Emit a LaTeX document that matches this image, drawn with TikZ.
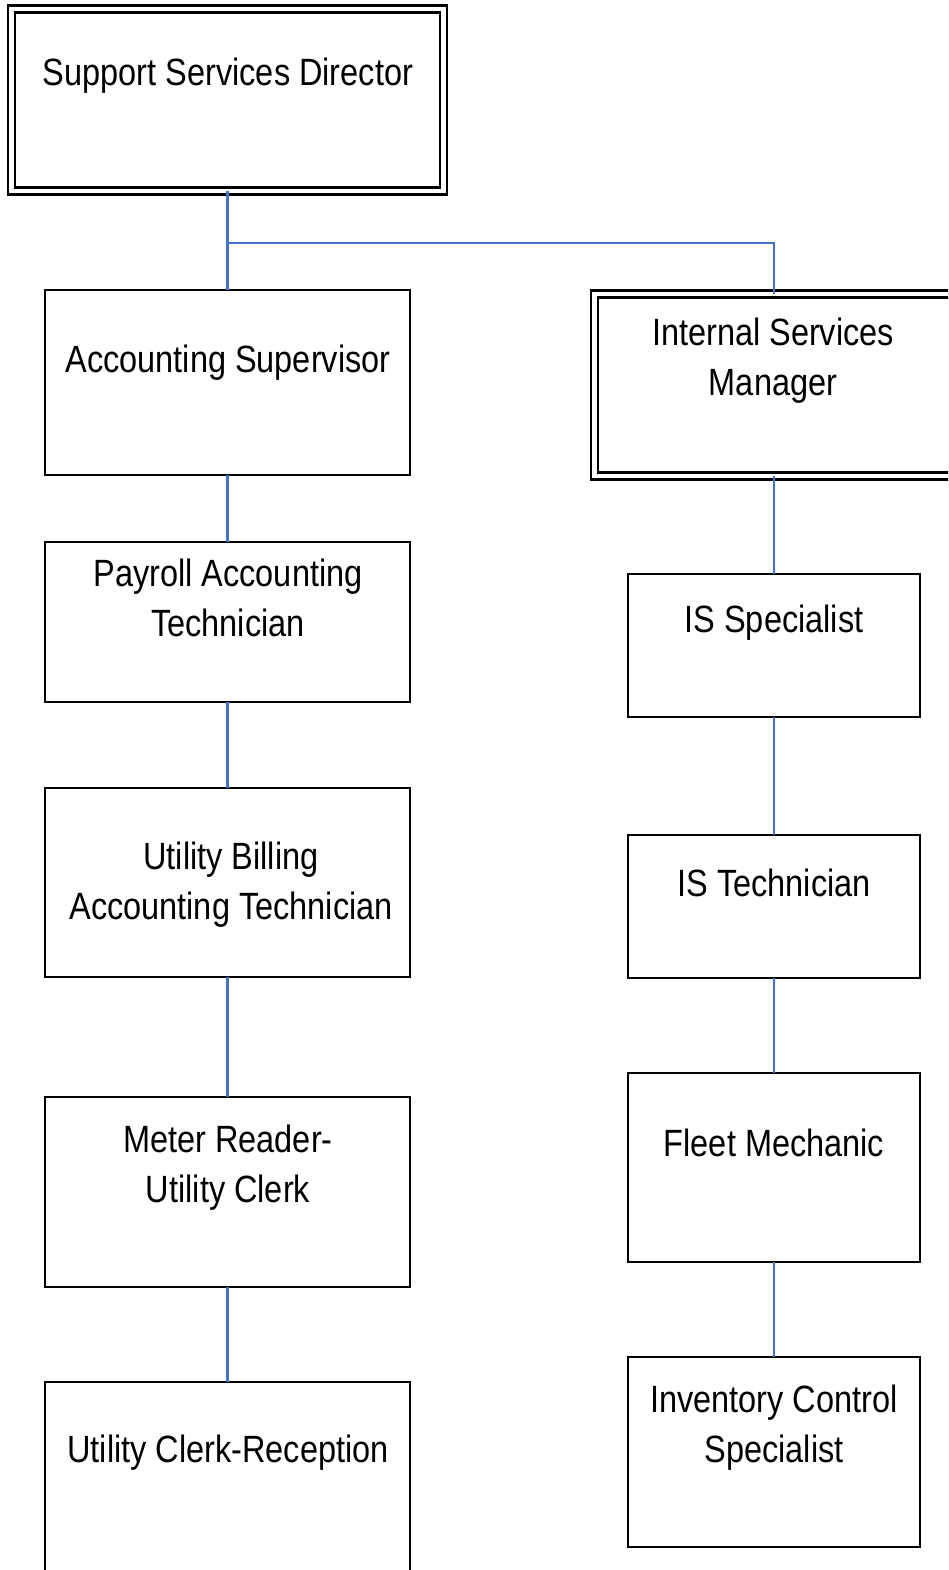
\documentclass[tikz,border=0pt]{standalone}
\usepackage{fontspec}
\setmainfont{Liberation Sans}[FakeStretch=0.855]
\definecolor{linkblue}{RGB}{68,114,196}
\begin{document}
\begin{tikzpicture}[x=1pt,y=-1pt,
  box/.style={draw=black, line width=2.5pt, fill=white, inner sep=0pt, outer sep=0pt},
  dbox/.style={box, double, double distance=4.5pt, line width=2.5pt},
  lbl/.style={inner sep=0pt, align=center, font=\fontsize{38}{50}\selectfont},
  link/.style={draw=linkblue, line width=2.5pt}]
\useasboundingbox (0,0) rectangle (948,1570);
\clip (0,0) rectangle (948,1570);
\fill[white] (0,0) rectangle (948,1570);
% boxes
\node[dbox, minimum width=432pt, minimum height=182pt] (ssd) at (227.5,100) {};
\node[box, minimum width=365pt, minimum height=185pt] (as) at (227.5,382.5) {};
\node[box, minimum width=365pt, minimum height=160pt] (pat) at (227.5,622) {};
\node[box, minimum width=365pt, minimum height=189pt] (ubat) at (227.5,882.5) {};
\node[box, minimum width=365pt, minimum height=190pt] (mr) at (227.5,1192) {};
\node[box, minimum width=365pt, minimum height=190pt] (ucr) at (227.5,1477) {};
\node[dbox, minimum width=359pt, minimum height=182pt] (ism) at (774,385) {};
\node[box, minimum width=292pt, minimum height=143pt] (iss) at (774,645.5) {};
\node[box, minimum width=292pt, minimum height=143pt] (ist) at (774,906.5) {};
\node[box, minimum width=292pt, minimum height=189pt] (fm) at (774,1167.5) {};
\node[box, minimum width=292pt, minimum height=190pt] (ics) at (774,1452) {};
% labels
\node[lbl] (tssd) at (228,76) {Support Services Director};
\node[lbl] (tas) at (228,363) {Accounting Supervisor};
\node[lbl] (tpat) at (228,598) {Payroll Accounting\\Technician};
\node[lbl] (tubat) at (231,885) {Utility Billing\\Accounting Technician};
\node[lbl] (tmr) at (228,1168) {Meter Reader-\\Utility Clerk};
\node[lbl] (tucr) at (228,1453) {Utility Clerk-Reception};
\node[lbl] (tism) at (773,361) {Internal Services\\Manager};
\node[lbl] (tiss) at (774,623) {IS Specialist};
\node[lbl] (tist) at (774,883) {IS Technician};
\node[lbl] (tfm) at (774,1143) {Fleet Mechanic};
\node[lbl] (tics) at (774,1428) {Inventory Control\\Specialist};
% connectors
\coordinate (fork) at (227.5,243);
\draw[link] (ssd.south) -- (as.north);
\draw[link] (fork) -| (ism.north);
\draw[link] (as.south) -- (pat.north);
\draw[link] (pat.south) -- (ubat.north);
\draw[link] (ubat.south) -- (mr.north);
\draw[link] (mr.south) -- (ucr.north);
\draw[link] (ism.south) -- (iss.north);
\draw[link] (iss.south) -- (ist.north);
\draw[link] (ist.south) -- (fm.north);
\draw[link] (fm.south) -- (ics.north);
\end{tikzpicture}
\end{document}
